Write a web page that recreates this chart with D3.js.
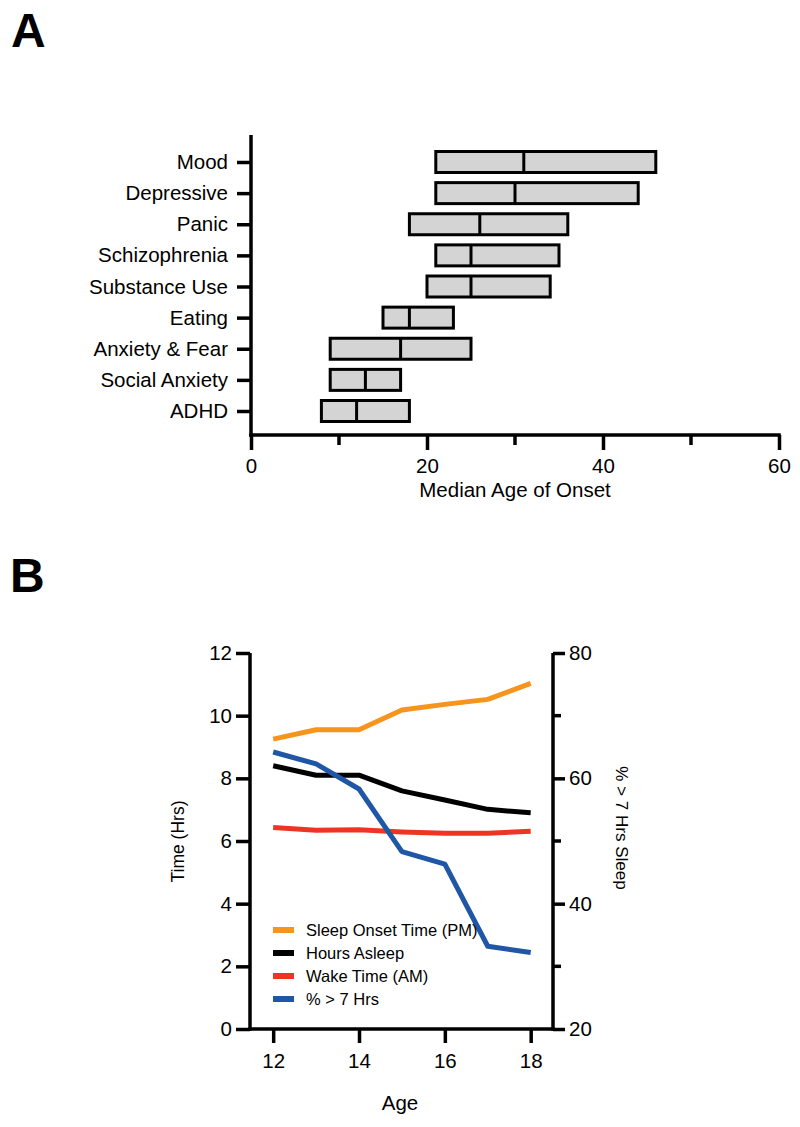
<!DOCTYPE html>
<html>
<head>
<meta charset="utf-8">
<script src="https://cdn.jsdelivr.net/npm/d3@7"></script>
<style>
  html, body { margin: 0; padding: 0; background: #fff; }
  svg { display: block; }
  text { font-family: "Liberation Sans", Arial, Helvetica, sans-serif; fill: #000; }
</style>
</head>
<body>
<svg id="chart" width="800" height="1127"></svg>
<script>
// ---------- Panel A data ----------
const categories = ["Mood", "Depressive", "Panic", "Schizophrenia", "Substance Use", "Eating", "Anxiety & Fear", "Social Anxiety", "ADHD"];
const lowAge    = [21, 21, 18, 21, 20, 15, 9, 9, 8];
const medianAge = [31, 30, 26, 25, 25, 18, 17, 13, 12];
const highAge   = [46, 44, 36, 35, 34, 23, 25, 17, 18];
const ageTicksMajor = [0, 20, 40, 60];
const ageTicksMinor = [10, 30, 50];

// ---------- Panel B data ----------
const ages = [12, 13, 14, 15, 16, 17, 18];
const sleepOnset  = [9.25, 9.55, 9.55, 10.18, 10.36, 10.52, 11.03];
const hoursAsleep = [8.40, 8.10, 8.10, 7.60, 7.31, 7.01, 6.90];
const wakeTime    = [6.43, 6.34, 6.36, 6.29, 6.25, 6.25, 6.31];
const pctOver7    = [64.2, 62.3, 58.3, 48.3, 46.3, 33.2, 32.2];
const seriesNames = ["Sleep Onset Time (PM)", "Hours Asleep", "Wake Time (AM)", "% > 7 Hrs"];
const seriesColors = ["#f7941d", "#000000", "#ee3524", "#1f56a5"];
const timeTicks = [0, 2, 4, 6, 8, 10, 12];
const pctTicksMajor = [20, 40, 60, 80];
const pctTicksMinor = [30, 50, 70];
const ageTicksB = [12, 14, 16, 18];

const FONT = '"Liberation Sans", Arial, Helvetica, sans-serif';
const FS = 20.5;
const svg = d3.select("#chart");
const AXW = 3.5;

function styleAxis(g, fs) {
  g.attr("font-family", FONT).attr("font-size", fs);
  g.selectAll("path.domain").attr("stroke", "#000").attr("stroke-width", AXW);
  g.selectAll(".tick line").attr("stroke", "#000").attr("stroke-width", AXW);
  g.selectAll(".tick text").attr("fill", "#000");
}

// ---------- Panel labels ----------
svg.append("text").attr("x", 11).attr("y", 47).attr("font-size", 48).attr("font-weight", "bold").attr("fill", "#231f20").text("A");
svg.append("text").attr("x", 10).attr("y", 592).attr("font-size", 48).attr("font-weight", "bold").attr("fill", "#231f20").text("B");

// ================= Panel A =================
const xA = d3.scaleLinear().domain([0, 60]).range([251, 779]);
const yA = d3.scalePoint().domain(categories).range([162, 411]);
const axisAY = 435, axisATop = 135;
const barH = 21;

const rowsA = categories.map((c, i) => ({ c, lo: lowAge[i], med: medianAge[i], hi: highAge[i] }));
const gBars = svg.append("g");
gBars.selectAll("rect").data(rowsA).enter().append("rect")
  .attr("x", d => xA(d.lo))
  .attr("y", d => yA(d.c) - barH / 2)
  .attr("width", d => xA(d.hi) - xA(d.lo))
  .attr("height", barH)
  .attr("fill", "#d4d4d4")
  .attr("stroke", "#000")
  .attr("stroke-width", 3);
gBars.selectAll("line").data(rowsA).enter().append("line")
  .attr("x1", d => xA(d.med)).attr("x2", d => xA(d.med))
  .attr("y1", d => yA(d.c) - barH / 2).attr("y2", d => yA(d.c) + barH / 2)
  .attr("stroke", "#000").attr("stroke-width", 3);

const gxA = svg.append("g").attr("transform", `translate(0,${axisAY})`)
  .call(d3.axisBottom(xA).tickValues(ageTicksMajor).tickSize(15).tickSizeOuter(0).tickPadding(8.5).tickFormat(d3.format("d")));
styleAxis(gxA, FS);
gxA.selectAll("path.domain").attr("d", `M${xA(0) - AXW / 2},0H${xA(60) + AXW / 2}`);
svg.append("g").attr("transform", `translate(0,${axisAY})`)
  .selectAll("line").data(ageTicksMinor).enter().append("line")
  .attr("x1", d => xA(d)).attr("x2", d => xA(d)).attr("y1", 0).attr("y2", 10)
  .attr("stroke", "#000").attr("stroke-width", AXW);

const gyA = svg.append("g").attr("transform", `translate(${xA(0)},0)`)
  .call(d3.axisLeft(yA).tickSize(14).tickSizeOuter(0).tickPadding(9));
styleAxis(gyA, FS);
gyA.selectAll("path.domain").attr("d", `M0,${axisATop}V${axisAY + AXW / 2}`);

svg.append("text").attr("x", (xA(0) + xA(60)) / 2).attr("y", 497)
  .attr("text-anchor", "middle").attr("font-size", FS).text("Median Age of Onset");

// ================= Panel B =================
const xB = d3.scaleLinear().domain([11.46, 18.52]).range([250, 553]);
const yL = d3.scaleLinear().domain([0, 12]).range([1029, 653]);
const yR = d3.scaleLinear().domain([20, 80]).range([1029, 653]);

const lineL = d3.line().x(d => xB(d[0])).y(d => yL(d[1]));
const lineR = d3.line().x(d => xB(d[0])).y(d => yR(d[1]));
const gLines = svg.append("g").attr("fill", "none").attr("stroke-width", 5).attr("stroke-linejoin", "round");
gLines.append("path").attr("d", lineL(ages.map((a, i) => [a, sleepOnset[i]]))).attr("stroke", seriesColors[0]);
gLines.append("path").attr("d", lineL(ages.map((a, i) => [a, hoursAsleep[i]]))).attr("stroke", seriesColors[1]);
gLines.append("path").attr("d", lineL(ages.map((a, i) => [a, wakeTime[i]]))).attr("stroke", seriesColors[2]);
gLines.append("path").attr("d", lineR(ages.map((a, i) => [a, pctOver7[i]]))).attr("stroke", seriesColors[3]);

const gyL = svg.append("g").attr("transform", `translate(${xB.range()[0]},0)`)
  .call(d3.axisLeft(yL).tickValues(timeTicks).tickSize(14).tickSizeOuter(0).tickPadding(4).tickFormat(d3.format("d")));
styleAxis(gyL, FS);
gyL.selectAll("path.domain").attr("d", `M0,${yL(12)}V${yL(0) + AXW / 2}`);

const gyR = svg.append("g").attr("transform", `translate(${xB.range()[1]},0)`)
  .call(d3.axisRight(yR).tickValues(pctTicksMajor).tickSize(12).tickSizeOuter(0).tickPadding(4).tickFormat(d3.format("d")));
styleAxis(gyR, FS);
gyR.selectAll("path.domain").attr("d", `M0,${yR(80)}V${yR(20) + AXW / 2}`);
svg.append("g").attr("transform", `translate(${xB.range()[1]},0)`)
  .selectAll("line").data(pctTicksMinor).enter().append("line")
  .attr("x1", 0).attr("x2", 8).attr("y1", d => yR(d)).attr("y2", d => yR(d))
  .attr("stroke", "#000").attr("stroke-width", AXW);

const gxB = svg.append("g").attr("transform", `translate(0,${yL(0)})`)
  .call(d3.axisBottom(xB).tickValues(ageTicksB).tickSize(14).tickSizeOuter(0).tickPadding(10.5).tickFormat(d3.format("d")));
styleAxis(gxB, FS);
gxB.selectAll("path.domain").attr("d", `M${xB.range()[0] - AXW / 2},0H${xB.range()[1] + AXW / 2}`);

svg.append("text").attr("x", 400).attr("y", 1110).attr("text-anchor", "middle").attr("font-size", FS).text("Age");
svg.append("text").attr("transform", "translate(184,841.5) rotate(-90)")
  .attr("text-anchor", "middle").attr("font-size", 17.5).text("Time (Hrs)");
svg.append("text").attr("transform", "translate(616,828) rotate(90)")
  .attr("text-anchor", "middle").attr("font-size", 17).text("% > 7 Hrs Sleep");

const legendY = d3.scalePoint().domain(seriesNames).range([936, 1005]);
const gLeg = svg.append("g");
gLeg.selectAll("rect").data(seriesNames).enter().append("rect")
  .attr("x", 273).attr("width", 21)
  .attr("y", d => legendY(d) - 9).attr("height", 6)
  .attr("fill", (d, i) => seriesColors[i]);
gLeg.selectAll("text").data(seriesNames).enter().append("text")
  .attr("x", 306).attr("y", d => legendY(d))
  .attr("font-size", 16.5).text(d => d);
</script>
</body>
</html>
